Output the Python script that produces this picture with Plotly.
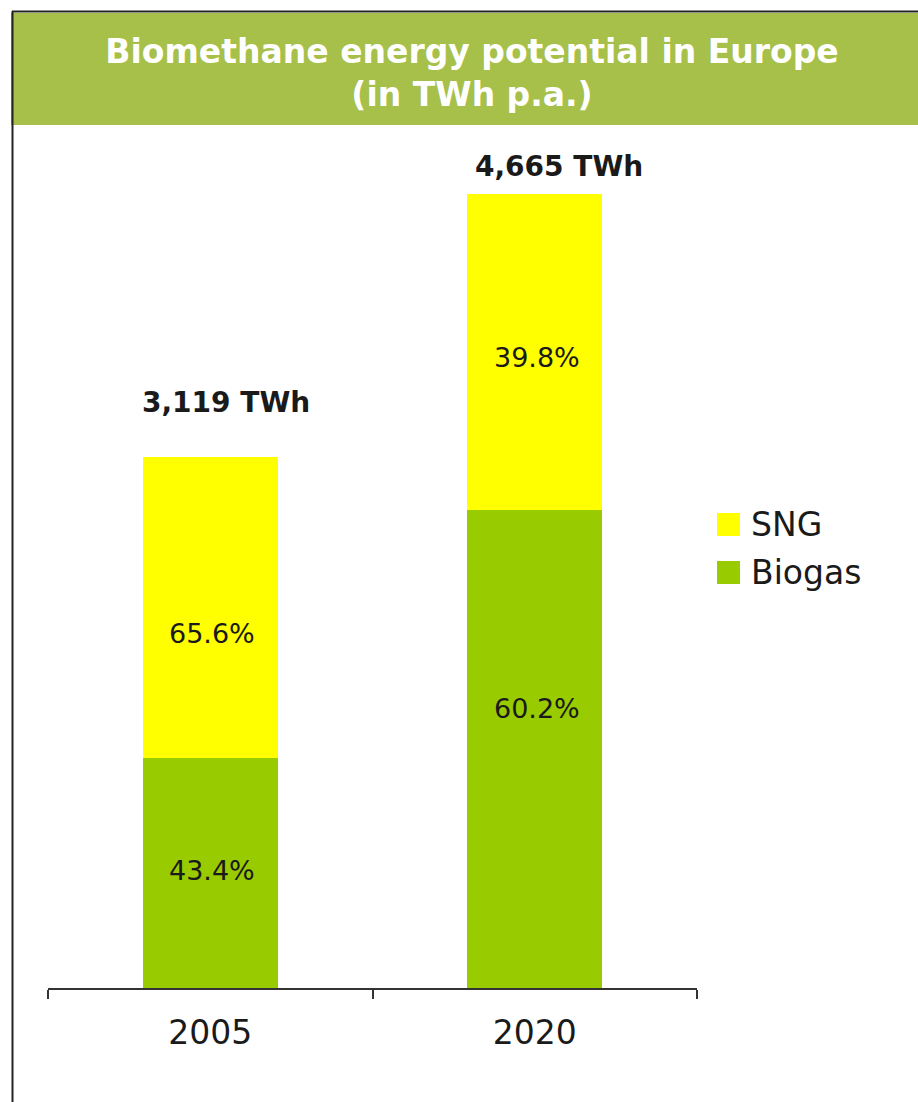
import plotly.graph_objects as go

# ---- data ----
years = ["2005", "2020"]
biogas_twh = [1354, 2808]
sng_twh = [1765, 1857]
biogas_pct_labels = ["43.4%", "60.2%"]
sng_pct_labels = ["65.6%", "39.8%"]
series_names = ["SNG", "Biogas"]
title_text = "Biomethane energy potential in Europe<br>(in TWh p.a.)"

# ---- style ----
W, H = 918, 1102
ML, MR, MT, MB = 48, 221, 140, 114
PW, PH = W - ML - MR, H - MT - MB
YMAX = 4985
GREEN = "#99CC00"
YELLOW = "#FFFF00"
BANNER = "#A6C04A"
TXT = "#1a1a1a"
FONT = "DejaVu Sans"

def px(x):
    return (x - ML) / PW

def py(y):
    return (H - MB - y) / PH

totals = [b + s for b, s in zip(biogas_twh, sng_twh)]

fig = go.Figure()
fig.add_trace(go.Bar(x=years, y=biogas_twh, name="Biogas", marker=dict(color=GREEN, line=dict(width=0)),
                     showlegend=False, hoverinfo="skip"))
fig.add_trace(go.Bar(x=years, y=sng_twh, name="SNG", marker=dict(color=YELLOW, line=dict(width=0)),
                     showlegend=False, hoverinfo="skip"))

annotations = []
# totals above bars (category index positions)
tot_shift_x = [16, 24]
tot_shift_y = [55, 28]
for i, yr in enumerate(years):
    annotations.append(dict(x=i, y=totals[i], xref="x", yref="y", text=f"{totals[i]:,} TWh",
                            showarrow=False, xshift=tot_shift_x[i], yshift=tot_shift_y[i],
                            font=dict(family=FONT, size=28, color=TXT, weight="bold")))
# percentage labels
bio_shift_y = [2, 41]
sng_shift_y = [-26, -5]
for i, yr in enumerate(years):
    annotations.append(dict(x=i, y=biogas_twh[i] / 2, xref="x", yref="y", text=biogas_pct_labels[i],
                            showarrow=False, yshift=bio_shift_y[i], xshift=2,
                            font=dict(family=FONT, size=27, color=TXT)))
    annotations.append(dict(x=i, y=biogas_twh[i] + sng_twh[i] / 2, xref="x", yref="y",
                            text=sng_pct_labels[i], showarrow=False, yshift=sng_shift_y[i], xshift=2,
                            font=dict(family=FONT, size=27, color=TXT)))
# custom legend
leg_colors = [YELLOW, GREEN]
leg_y = [524.5, 572.5]
shapes = []
for name, col, ly in zip(series_names, leg_colors, leg_y):
    shapes.append(dict(type="rect", xref="paper", yref="paper", x0=px(717), x1=px(740),
                       y0=py(ly - 11.5), y1=py(ly + 11.5), fillcolor=col, line=dict(width=0)))
    annotations.append(dict(x=px(749), y=py(ly), xref="paper", yref="paper", text=name, showarrow=False,
                            xanchor="left", yanchor="middle", font=dict(family=FONT, size=33, color=TXT)))

# banner and frame
shapes.insert(0, dict(type="rect", xref="paper", yref="paper", x0=px(11), x1=px(918), y0=py(125), y1=py(13),
                      fillcolor=BANNER, line=dict(width=0), layer="below"))
shapes.append(dict(type="line", xref="paper", yref="paper", x0=px(12), x1=px(918), y0=py(11.5), y1=py(11.5),
                   line=dict(color="#222", width=2)))
shapes.append(dict(type="line", xref="paper", yref="paper", x0=px(12.5), x1=px(12.5), y0=py(11), y1=py(1102),
                   line=dict(color="#222", width=2)))

fig.update_layout(
    width=W, height=H,
    margin=dict(l=ML, r=MR, t=MT, b=MB, pad=0),
    paper_bgcolor="white", plot_bgcolor="white",
    barmode="stack", bargap=0.585,
    showlegend=False,
    title=dict(text=title_text, x=472 / W, xanchor="center", y=1 - 63 / H, yanchor="middle",
               yref="container", font=dict(family=FONT, size=33, color="white", weight="bold")),
    xaxis=dict(type="category", range=[-0.5, 1.5], showline=True, linecolor="#333", linewidth=2,
               ticks="outside", tickson="boundaries", ticklen=9, tickwidth=2, tickcolor="#333",
               showgrid=False, zeroline=False, ticklabelstandoff=14,
               tickfont=dict(family=FONT, size=33, color=TXT)),
    yaxis=dict(range=[0, YMAX], visible=False, showgrid=False, zeroline=False),
    annotations=annotations,
    shapes=shapes,
)

fig.write_html("out.html")
